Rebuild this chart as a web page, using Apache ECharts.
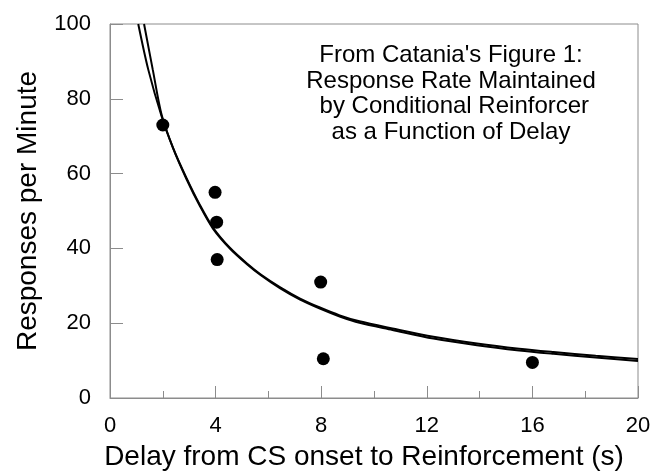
<!DOCTYPE html>
<html>
<head>
<meta charset="utf-8">
<script src="https://cdn.jsdelivr.net/npm/echarts@6/dist/echarts.min.js"></script>
<style>
  html, body { margin: 0; padding: 0; background: #fff; }
  #chart { width: 663px; height: 476px; }
</style>
</head>
<body>
<div id="chart"></div>
<script>
// observed points
var delays = [2, 3.98, 4.04, 4.06, 7.98, 8.08, 16];
var rates = [73, 55, 47, 37, 31, 10.5, 9.5];

// the two fitted curves
var curveAX = [1.07, 1.45, 1.96, 2.4, 2.9, 3.4, 3.9, 4.55, 5.2, 5.7, 6.45, 7.2, 7.95, 8.7, 9.45, 10.7, 12.25, 13.9, 15.5, 16.8, 18.4, 20];
var curveAY = [100, 87.8, 75.2, 66.7, 58.8, 51.7, 45.6, 40.1, 35.9, 33.1, 29.6, 26.6, 24.2, 22.1, 20.5, 18.6, 16.4, 14.6, 13.2, 12.3, 11.3, 10.4];
var curveBX = [1.29, 1.62, 1.96, 2.4, 2.9, 3.4, 3.9, 4.55, 5.2, 5.7, 6.45, 7.2, 7.95, 8.7, 9.45, 10.7, 12.25, 13.9, 15.5, 16.8, 18.4, 20];
var curveBY = [100, 87.8, 75.6, 66.6, 58.5, 51.4, 45.3, 39.9, 35.7, 32.9, 29.3, 26.3, 23.9, 21.8, 20.1, 18.2, 15.9, 14.1, 12.7, 11.8, 10.8, 9.9];

var xTicks = [0, 4, 8, 12, 16, 20];
var yTicks = [0, 20, 40, 60, 80, 100];

var noteLines = [
  "From Catania's Figure 1:",
  'Response Rate Maintained',
  ' by Conditional Reinforcer',
  'as a Function of Delay'
];

function pairs(xs, ys) {
  return xs.map(function (x, i) { return [x, ys[i]]; });
}

var font = '"Liberation Sans", Arial, Helvetica, sans-serif';
var axisGray = '#8c8c8c';

var chart = echarts.init(document.getElementById('chart'));
chart.setOption({
  animation: false,
  textStyle: { fontFamily: font },
  grid: {
    left: 110, top: 24, right: 25, bottom: 75,
    show: true, borderColor: axisGray, borderWidth: 1
  },
  xAxis: {
    type: 'value',
    min: xTicks[0], max: xTicks[xTicks.length - 1], interval: 4,
    name: 'Delay from CS onset to Reinforcement (s)',
    nameLocation: 'middle',
    nameGap: 45,
    nameTextStyle: { fontSize: 28, color: '#000', fontFamily: font, padding: [0, 20, 0, 0] },
    axisLine: { lineStyle: { color: axisGray, width: 1 } },
    axisTick: { inside: true, length: 12, lineStyle: { color: axisGray } },
    minorTick: { show: true, splitNumber: 2, length: 7, lineStyle: { color: axisGray } },
    axisLabel: { fontSize: 22, color: '#000', margin: 17, fontFamily: font },
    splitLine: { show: false }
  },
  yAxis: {
    type: 'value',
    min: yTicks[0], max: yTicks[yTicks.length - 1], interval: 20,
    name: 'Responses per Minute',
    nameLocation: 'middle',
    nameGap: 68,
    nameTextStyle: { fontSize: 28, color: '#000', fontFamily: font },
    axisLine: { lineStyle: { color: axisGray, width: 1 } },
    axisTick: { inside: true, length: 13, lineStyle: { color: axisGray } },
    axisLabel: { fontSize: 22, color: '#000', margin: 19, fontFamily: font },
    splitLine: { show: false }
  },
  graphic: [{
    type: 'text',
    left: 451 - 150,
    top: 43,
    style: {
      text: noteLines.join('\n'),
      width: 300,
      align: 'center',
      x: 150,
      textAlign: 'center',
      fontSize: 24,
      lineHeight: 25.5,
      fontFamily: font,
      fill: '#000'
    }
  }],
  series: [
    {
      type: 'line',
      data: pairs(curveAX, curveAY),
      smooth: 0.3,
      showSymbol: false,
      lineStyle: { color: '#000', width: 2 }
    },
    {
      type: 'line',
      data: pairs(curveBX, curveBY),
      smooth: 0.3,
      showSymbol: false,
      lineStyle: { color: '#000', width: 2 }
    },
    {
      type: 'scatter',
      data: pairs(delays, rates),
      symbol: 'circle',
      symbolSize: 13,
      itemStyle: { color: '#000', opacity: 1 }
    }
  ]
});
</script>
</body>
</html>
